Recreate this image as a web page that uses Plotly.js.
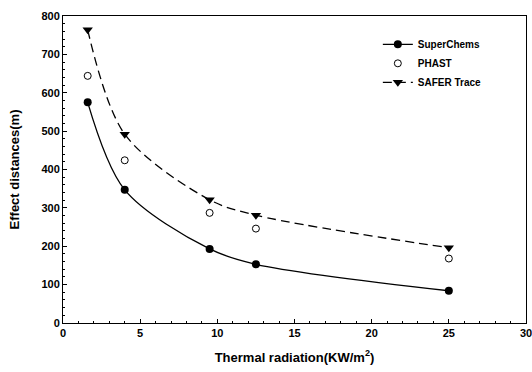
<!DOCTYPE html>
<html><head><meta charset="utf-8">
<script src="https://cdn.plot.ly/plotly-3.0.1.min.js"></script>
<style>html,body{margin:0;padding:0;background:#fff}#c{width:532px;height:372px}</style>
</head><body><div id="c"></div>
<script>
var radiation = [1.6, 4, 9.5, 12.5, 25];
var superChems = [575, 347, 193, 153, 84];
var phast = [644, 424, 287, 246, 168];
var saferTrace = [764, 492, 321, 281, 196];
var xTicks = [0, 5, 10, 15, 20, 25, 30];
var yTicks = [0, 100, 200, 300, 400, 500, 600, 700, 800];

var fam = 'Liberation Sans, Arial, sans-serif';
var fontB = {family: fam, size: 10, color: '#000', weight: 'bold'};
var tickF = {family: fam, size: 11, color: '#000', weight: 'bold'};
var titleF = {family: fam, size: 13, color: '#000', weight: 'bold'};
var traces = [
  {x: radiation, y: superChems, name: 'SuperChems', mode: 'lines+markers', type: 'scatter',
   line: {color: '#000', width: 1.3, shape: 'spline', smoothing: 0.9},
   marker: {symbol: 'circle', size: 8, color: '#000'}},
  {x: radiation, y: phast, name: 'PHAST', mode: 'markers', type: 'scatter',
   marker: {symbol: 'circle-open', size: 7, color: '#000', line: {width: 1, color: '#000'}}},
  {x: radiation, y: saferTrace, name: 'SAFER Trace', mode: 'lines+markers', type: 'scatter',
   line: {color: '#000', width: 1.3, dash: '9px,5px', shape: 'spline', smoothing: 0.9},
   marker: {symbol: 'triangle-down', size: 9, color: '#000'}}
];
var layout = {
  width: 532, height: 372,
  margin: {l: 63, r: 6, t: 16, b: 49},
  paper_bgcolor: '#fff', plot_bgcolor: '#fff',
  showlegend: true,
  legend: {x: 0.68, y: 0.955, xanchor: 'left', yanchor: 'top', bgcolor: 'rgba(0,0,0,0)',
           font: fontB, tracegroupgap: 0, itemwidth: 30},
  xaxis: {range: [0, 30], tickvals: xTicks, ticktext: xTicks.map(String),
          ticklabeloverflow: 'allow',
          showline: true, linecolor: '#000', linewidth: 1, mirror: true,
          ticks: 'inside', ticklen: 4, tickcolor: '#000', showgrid: false, zeroline: false,
          minor: {dtick: 1, ticks: 'inside', ticklen: 2, tickcolor: '#000'},
          tickfont: tickF,
          title: {text: 'Thermal radiation(KW/m<sup>2</sup>)', font: titleF, standoff: 14}},
  yaxis: {range: [0, 800], tickvals: yTicks, ticktext: yTicks.map(String),
          showline: true, linecolor: '#000', linewidth: 1, mirror: true,
          ticks: 'inside', ticklen: 4, tickcolor: '#000', showgrid: false, zeroline: false,
          minor: {dtick: 20, ticks: 'inside', ticklen: 2, tickcolor: '#000'},
          tickfont: tickF,
          title: {text: 'Effect distances(m)', font: titleF, standoff: 18}}
};
Plotly.newPlot('c', traces, layout, {displayModeBar: false, staticPlot: true});
</script></body></html>
